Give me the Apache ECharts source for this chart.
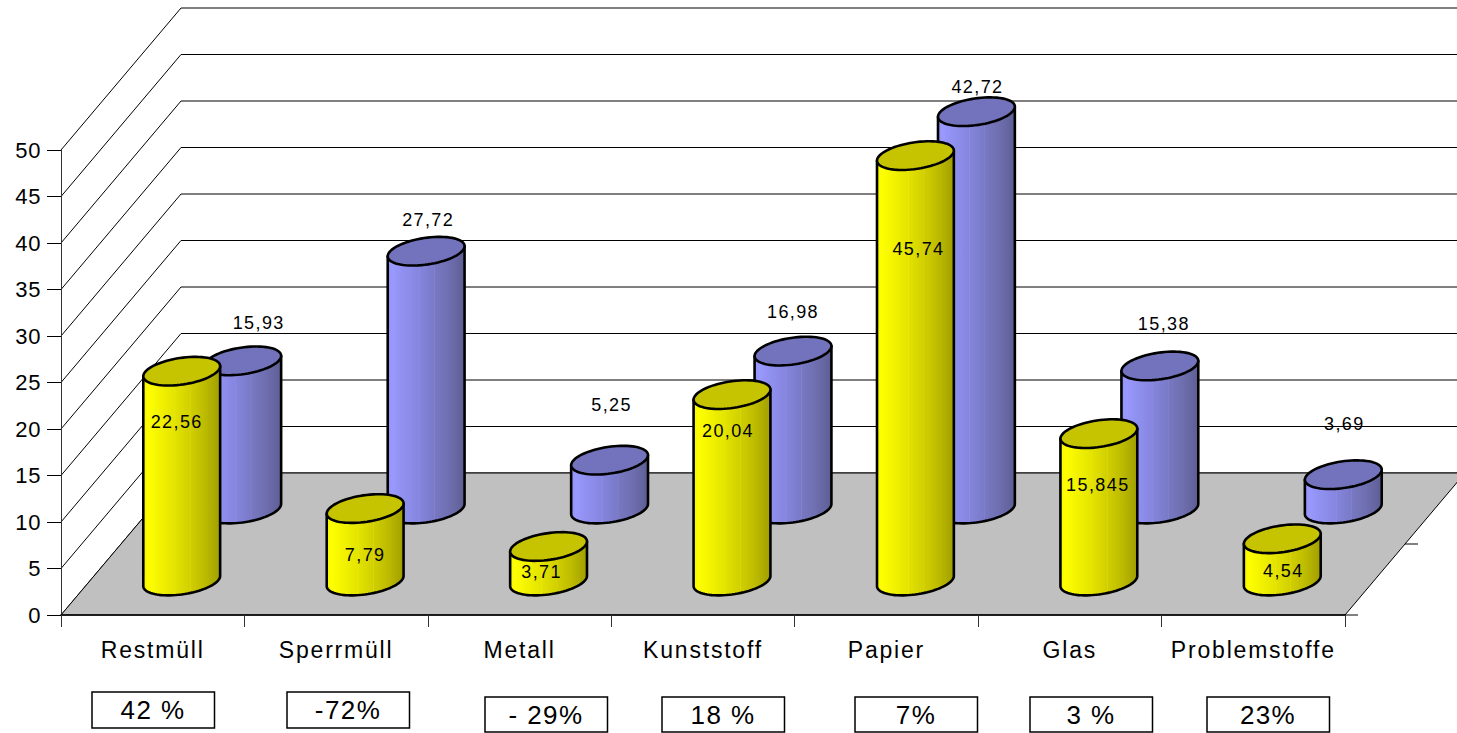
<!DOCTYPE html>
<html>
<head>
<meta charset="utf-8">
<style>
html,body{margin:0;padding:0;background:#fff;overflow:hidden}
#c{width:1457px;height:733px}
text{letter-spacing:1.4px}
text[style*="23px"]{letter-spacing:1.8px}
text[style*="22px"]{letter-spacing:0.6px}
text[style*="26px"]{letter-spacing:1.4px}
</style>
<script src="https://cdn.jsdelivr.net/npm/echarts@6/dist/echarts.min.js"></script>
</head>
<body>
<div id="c"></div>
<script>
var categories = ['Restmüll','Sperrmüll','Metall','Kunststoff','Papier','Glas','Problemstoffe'];
var yellowValues = [22.56,7.79,3.71,20.04,45.74,15.845,4.54];
var blueValues = [15.93,27.72,5.25,16.98,42.72,15.38,3.69];
var changeLabels = ['42 %','-72%','- 29%','18 %','7%','3 %','23%'];
var yTicks = [0,5,10,15,20,25,30,35,40,45,50];

// layout only: hand-placed label nudges, in px, from the cylinder's top centre
var yellowNudge = [[-5,51],[0,46],[-7,26],[-4,36],[3,93],[-1,51],[1,32]];
var blueNudge = [[16,-38],[2,-31],[2,-55],[0,-39],[1,-25],[4,-42],[1,-51]];
var boxes = [[92,692,36],[287,692,36],[485,697,35],[662,697,35],[855,697,35],[1030,697,35],[1207,697,35]];

var DEPTH = [120,-142], YEL = [29,-34], BLU = [90,-106];
var A = 38.8, B = 13.3, TH = -8.5*Math.PI/180;
var STROKE = 2.6;

function bands(stops){
  return {type:'linear',x:0,y:0,x2:1,y2:0,colorStops:stops.map(function(s){return {offset:s[0],color:s[1]};})};
}
var yellowFill = bands([[0,'#f6f600'],[0.06,'#ffff00'],[0.2,'#f4f400'],[0.4,'#e4e400'],[0.41,'#e8e80c'],[0.42,'#e2e200'],[0.6,'#d2d000'],[0.61,'#d8d610'],[0.62,'#d0ce00'],[0.8,'#bdbb00'],[1,'#a09e00']]);
var blueFill = bands([[0,'#9292f4'],[0.06,'#9999ff'],[0.2,'#9090f0'],[0.4,'#8686e0'],[0.41,'#8c8ce4'],[0.42,'#8484dc'],[0.6,'#7a7ac8'],[0.61,'#8282cc'],[0.62,'#7878c2'],[0.8,'#6e6eb0'],[1,'#5e5e94']]);
var yellowTop = '#c6c400', blueTop = '#7373bd';

function ellipsePt(cx,cy,t){
  var c=Math.cos(TH), s=Math.sin(TH), ca=Math.cos(t), sa=Math.sin(t);
  return [cx+A*ca*c-B*sa*s, cy+A*ca*s+B*sa*c];
}
function ellipsePts(cx,cy){
  var out=[]; for(var i=0;i<72;i++){out.push(ellipsePt(cx,cy,i/72*2*Math.PI));} return out;
}
function bodyPts(cx,topY,baseY){
  var t0=Math.atan2(-B*Math.sin(TH),A*Math.cos(TH)); // right-most parameter
  var pts=[], i, n=40;
  for(i=0;i<=n;i++){pts.push(ellipsePt(cx,baseY,t0+i/n*Math.PI));} // right -> front -> left on base
  var l=ellipsePt(cx,topY,t0+Math.PI), r=ellipsePt(cx,topY,t0);
  pts.push(l); pts.push(r);
  return pts;
}
function cylinderRender(off,fill,top,nudge){
  return function(params,api){
    var i=api.value(0), v=api.value(1);
    var b=api.coord([i,0]), t=api.coord([i,v]);
    var cx=b[0]+off[0], baseY=b[1]+off[1], topY=t[1]+off[1];
    var lineStyle={fill:fill,stroke:'#000',lineWidth:STROKE,lineJoin:'round'};
    return {type:'group',children:[
      {type:'polygon',shape:{points:bodyPts(cx,topY,baseY)},style:lineStyle},
      {type:'polygon',shape:{points:ellipsePts(cx,topY)},style:{fill:top,stroke:'#000',lineWidth:STROKE}},
      {type:'text',x:cx+nudge[i][0],y:topY+nudge[i][1],style:{
        text:String(v).replace('.',','),fill:'#000',align:'center',verticalAlign:'middle',
        font:'18px "Liberation Sans", Arial, sans-serif'}}
    ]};
  };
}
function wallRender(params,api){
  var v=api.value(0), g=params.coordSys, p=api.coord([0,v]);
  var x0=g.x, y0=p[1];
  return {type:'polyline',shape:{points:[[x0,y0],[x0+DEPTH[0],y0+DEPTH[1]],[x0+g.width+DEPTH[0],y0+DEPTH[1]]]},
    style:{fill:'none',stroke:'#000',lineWidth:1}};
}
function floorRender(params,api){
  var g=params.coordSys, y0=api.coord([0,0])[1], x0=g.x, x1=g.x+g.width;
  return {type:'group',children:[
    {type:'polygon',shape:{points:[[x0,y0],[x0+DEPTH[0],y0+DEPTH[1]],[x1+DEPTH[0],y0+DEPTH[1]],[x1,y0]]},
      style:{fill:'#c0c0c0',stroke:'#000',lineWidth:1}},
    {type:'line',shape:{x1:x1,y1:y0,x2:x1+13,y2:y0},style:{stroke:'#000',lineWidth:1}},
    {type:'line',shape:{x1:x1+DEPTH[0]/2,y1:y0+DEPTH[1]/2,x2:x1+DEPTH[0]/2+13,y2:y0+DEPTH[1]/2},style:{stroke:'#000',lineWidth:1}}
  ]};
}

var chart=echarts.init(document.getElementById('c'),null,{renderer:'svg',width:1457,height:733});
var font='"Liberation Sans", Arial, sans-serif';
var boxGraphics=[];
boxes.forEach(function(b,i){
  boxGraphics.push({type:'rect',x:b[0],y:b[1],shape:{width:122.5,height:b[2]},
    style:{fill:'#fff',stroke:'#000',lineWidth:1.5},z:10});
  boxGraphics.push({type:'text',x:b[0]+61,y:b[1]+b[2]/2,z:11,
    style:{text:changeLabels[i],fill:'#000',font:'26px '+font,align:'center',verticalAlign:'middle'}});
});
chart.setOption({
  animation:false,
  backgroundColor:'#fff',
  grid:{left:61,right:112,top:150,bottom:118,containLabel:false},
  xAxis:{type:'category',data:categories,z:5,
    axisLine:{show:true,lineStyle:{color:'#000',width:1.5}},
    axisTick:{show:true,length:12,alignWithLabel:false,lineStyle:{color:'#333',width:1}},
    axisLabel:{color:'#000',fontSize:23,fontFamily:font,margin:23,interval:0}},
  yAxis:{type:'value',min:0,max:50,interval:5,z:5,
    axisLine:{show:true,lineStyle:{color:'#333',width:1}},
    axisTick:{show:true,length:14,lineStyle:{color:'#000',width:1}},
    splitLine:{show:false},
    axisLabel:{color:'#000',fontSize:22,fontFamily:font,margin:20,padding:[2,0,0,0]}},
  graphic:boxGraphics,
  series:[
    {type:'custom',name:'wall',coordinateSystem:'cartesian2d',clip:false,silent:true,z:1,
     encode:{y:0},data:yTicks.map(function(v){return [v];}),renderItem:wallRender},
    {type:'custom',name:'floor',coordinateSystem:'cartesian2d',clip:false,silent:true,z:2,
     data:[[0,0]],renderItem:floorRender},
    {type:'custom',name:'blue',coordinateSystem:'cartesian2d',clip:false,z:3,
     encode:{x:0,y:1},data:blueValues.map(function(v,i){return [i,v];}),
     renderItem:cylinderRender(BLU,blueFill,blueTop,blueNudge)},
    {type:'custom',name:'yellow',coordinateSystem:'cartesian2d',clip:false,z:4,
     encode:{x:0,y:1},data:yellowValues.map(function(v,i){return [i,v];}),
     renderItem:cylinderRender(YEL,yellowFill,yellowTop,yellowNudge)}
  ]
});
</script>
</body>
</html>
